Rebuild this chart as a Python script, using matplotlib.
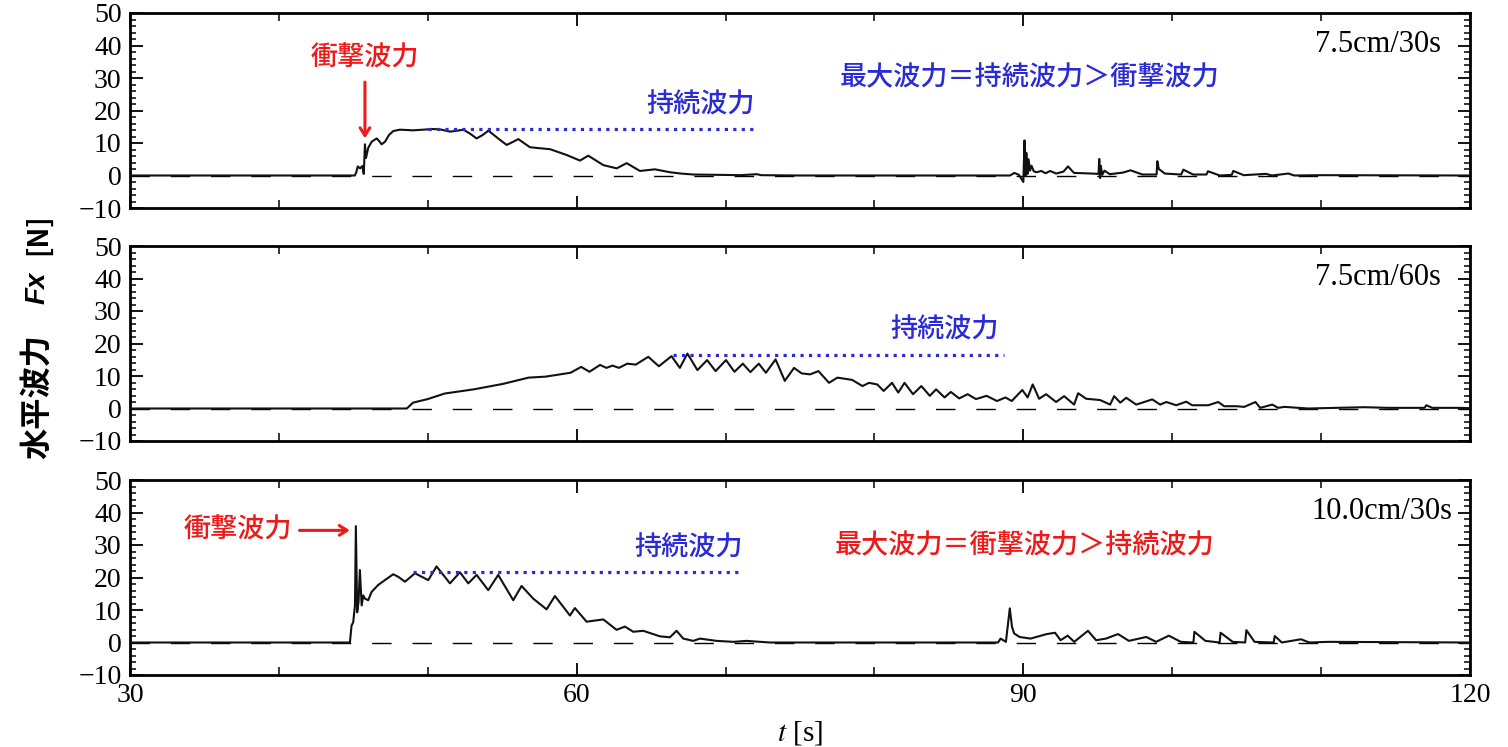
import matplotlib
matplotlib.use('Agg')
import matplotlib.pyplot as plt
from matplotlib.ticker import MultipleLocator

# ---------------- data ----------------
t1 = [30.0, 45.1, 45.2, 45.3, 45.45, 45.6, 45.7, 45.78, 45.85, 46.0, 46.23, 46.57, 46.75,
      46.9, 47.13, 47.4, 47.69, 48.13, 49.0, 49.7, 50.3, 50.82, 51.49, 52.0, 52.39, 52.8,
      53.28, 53.7, 54.07, 54.7, 55.3, 55.7, 56.08, 56.86, 57.5, 58.21, 59.33, 60.22, 60.78,
      61.79, 62.69, 63.36, 64.25, 65.26, 66.27, 67.0, 67.83, 69.5, 71.0, 72.1, 72.4, 75.0,
      89.1, 89.4, 89.7, 90.0, 90.08, 90.15, 90.2, 90.28, 90.35, 90.45, 90.55, 90.7, 90.9,
      91.2, 91.5, 91.8, 92.2, 92.7, 93.0, 93.4, 94.6, 95.05, 95.1, 95.15, 95.2, 95.3, 95.45,
      95.8, 96.7, 97.2, 98.0, 98.95, 99.0, 99.1, 99.5, 100.6, 100.75, 101.4, 102.3, 102.4,
      103.2, 104.0, 104.1, 104.8, 106.3, 106.7, 107.8, 108.2, 110.0, 120.0]
f1 = [0.0, 0.0, 1.0, 2.8, 2.2, 2.9, 0.5, 9.6, 5.4, 8.5, 10.4, 11.4, 10.5,
      9.6, 10.4, 12.5, 13.7, 14.1, 13.9, 14.1, 14.3, 14.2, 13.5, 13.8, 14.1, 13.0,
      11.4, 12.5, 13.8, 11.5, 9.4, 10.3, 11.2, 8.7, 8.4, 8.1, 6.3, 4.6, 6.1,
      3.2, 2.2, 3.8, 1.4, 1.9, 1.0, 0.6, 0.3, 0.2, 0.1, 0.4, 0.1, 0.0,
      0.0, 0.8, 0.2, -2.0, 10.8, 0.0, 7.0, 0.5, 5.0, 1.5, 3.0, 1.3, 1.0,
      1.4, 0.7, 1.4, 0.6, 1.2, 2.8, 0.8, 0.6, 0.5, 5.1, -0.8, 3.0, 0.2, 1.5,
      0.4, 0.9, 1.6, 0.3, 0.3, 4.4, 2.0, 0.6, 0.3, 1.8, 0.3, 0.3, 1.3,
      0.0, 0.2, 1.4, 0.1, 0.5, 0.0, 0.6, 0.0, 0.1, 0.0]

t2 = [30.0, 48.59, 49.01, 50.0, 51.13, 53.1, 55.08, 56.77, 57.9, 59.59, 60.3, 60.86, 61.57,
      62.0, 62.41, 62.84, 63.4, 63.97, 64.81, 65.52, 66.37, 66.93, 67.44, 68.11, 68.76,
      69.33, 70.03, 70.6, 71.16, 71.67, 72.23, 72.71, 73.36, 73.98, 74.6, 75.11, 75.68,
      76.24, 76.95, 77.51, 78.5, 79.2, 79.63, 80.19, 80.62, 81.18, 81.6, 82.02, 82.59,
      83.15, 83.72, 84.14, 84.71, 85.13, 85.69, 86.26, 86.82, 87.53, 88.23, 88.8, 89.22,
      89.93, 90.29, 90.63, 91.06, 91.53, 92.2, 92.74, 93.41, 93.68, 94.22, 95.16, 95.83,
      96.1, 96.51, 96.91, 97.58, 98.66, 99.19, 99.6, 100.27, 100.94, 101.34, 102.42,
      103.09, 103.49, 104.3, 104.84, 105.59, 105.91, 106.72, 107.12, 107.53, 109.14,
      112.9, 114.52, 116.94, 117.07, 117.47, 119.35, 120.0]
f2 = [0.0, 0.0, 1.8, 2.9, 4.6, 5.9, 7.6, 9.5, 9.8, 11.0, 12.8, 11.3, 13.4,
      12.5, 13.2, 12.5, 13.8, 13.5, 15.9, 13.0, 16.1, 12.5, 16.9, 11.8, 14.9,
      11.5, 14.9, 11.3, 13.8, 11.2, 13.8, 11.0, 15.1, 8.5, 12.5, 10.8, 10.5,
      11.5, 7.9, 9.5, 8.8, 6.9, 7.9, 7.4, 5.4, 7.9, 4.9, 7.9, 4.4,
      6.9, 3.9, 5.9, 3.4, 5.1, 3.1, 4.4, 2.9, 3.9, 2.3, 3.4, 2.3,
      5.7, 3.4, 7.4, 3.0, 4.4, 2.0, 3.8, 1.2, 4.7, 3.0, 2.6, 1.2,
      3.8, 1.8, 3.3, 1.2, 2.8, 1.2, 2.0, 1.0, 2.1, 1.0, 1.0,
      2.0, 0.7, 0.7, 0.5, 2.0, 0.2, 1.2, 0.2, 0.5, 0.0,
      0.4, 0.2, 0.2, 1.0, 0.2, 0.2, 0.1]

t3 = [30.0, 44.77, 44.88, 44.99, 45.11, 45.17, 45.26, 45.35, 45.44, 45.56, 45.67, 45.78,
      46.0, 46.23, 46.67, 47.12, 47.68, 48.02, 48.47, 49.14, 50.03, 50.59, 51.49, 52.16,
      52.72, 53.28, 54.06, 54.73, 55.74, 56.3, 57.08, 57.98, 58.54, 59.55, 59.88, 60.67,
      61.79, 62.68, 63.24, 63.8, 64.47, 65.59, 66.26, 66.71, 67.16, 67.83, 68.28, 69.4,
      70.52, 71.41, 72.98, 88.3, 88.47, 88.83, 89.09, 89.24, 89.38, 89.75, 90.48, 91.58,
      92.13, 92.5, 92.98, 93.42, 94.34, 94.89, 95.55, 96.36, 97.09, 98.26, 98.92, 99.77,
      100.58, 101.42, 101.49, 102.23, 103.18, 103.25, 104.06, 104.9, 104.98, 105.53,
      106.81, 106.89, 107.36, 108.65, 109.2, 110.48, 120.0]
f3 = [0.0, 0.0, 5.2, 6.2, 11.4, 35.8, 9.3, 12.5, 22.3, 11.4, 14.5, 13.5,
      13.0, 15.6, 17.7, 19.2, 21.0, 20.2, 18.7, 21.3, 19.2, 23.4, 18.2, 21.6,
      18.2, 20.8, 16.1, 20.8, 13.0, 17.4, 13.5, 10.2, 14.3, 8.3, 10.6, 6.4,
      7.1, 3.9, 4.9, 3.3, 3.6, 1.9, 1.6, 3.6, 1.2, 0.5, 1.2, 0.5,
      0.2, 0.5, 0.0, 0.0, 1.2, 0.2, 10.5, 4.8, 2.8, 1.7, 1.2, 2.6,
      3.0, 0.7, 2.1, 0.2, 3.6, 0.7, 1.2, 2.6, 0.5, 1.7, 0.2, 2.1,
      0.2, 0.0, 3.3, 0.5, 0.0, 3.0, 0.2, 0.0, 3.8, 0.2,
      0.0, 2.0, 0.0, 1.0, 0.0, 0.2, 0.0]

case_labels = ['7.5cm/30s', '7.5cm/60s', '10.0cm/30s']
sustained_levels = [14.2, 16.6, 21.8]
sustained_spans = [(50.0, 72.1), (66.5, 88.7), (49.0, 71.2)]

# ---------------- style ----------------
plt.rcParams['font.family'] = ['Liberation Serif', 'DejaVu Serif']
plt.rcParams['mathtext.fontset'] = 'stix'
JP = ['Noto Sans CJK JP', 'DejaVu Sans']
RED = '#ee1a1a'
BLUE = '#2b2bd6'
TICKFS = 20
JPFS = 19.5

fig = plt.figure(figsize=(15.08, 7.47), dpi=100)
W, H = 1508.0, 747.0


def rect(top, bottom):
    return [130 / W, 1 - bottom / H, 1340 / W, (bottom - top) / H]


axes = [fig.add_axes(rect(13, 208)), fig.add_axes(rect(246, 441)), fig.add_axes(rect(480, 675))]
series = [(t1, f1), (t2, f2), (t3, f3)]

for i, ax in enumerate(axes):
    t, f = series[i]
    ax.axhline(0, color='black', lw=1.0, dashes=(14, 15), zorder=1)
    ax.plot(t, f, color='#111111', lw=1.5, zorder=3, solid_joinstyle='round')
    s0, s1 = sustained_spans[i]
    ax.plot([s0, s1], [sustained_levels[i], sustained_levels[i]], color=BLUE, lw=2.3,
            linestyle=':', zorder=4)
    ax.set_xlim(30, 120)
    ax.set_ylim(-10, 50)
    ax.xaxis.set_major_locator(MultipleLocator(30))
    ax.xaxis.set_minor_locator(MultipleLocator(10))
    ax.yaxis.set_major_locator(MultipleLocator(10))
    ax.yaxis.set_minor_locator(MultipleLocator(2))
    ax.tick_params(which='both', direction='in', top=True, right=True, labelsize=TICKFS)
    ax.tick_params(which='major', length=9, width=1.3)
    ax.tick_params(which='minor', length=4.5, width=1.1)
    ax.tick_params(axis='x', which='minor', length=6)
    ax.tick_params(axis='y', pad=6)
    for sp in ax.spines.values():
        sp.set_linewidth(2.0)
    if i < 2:
        ax.tick_params(axis='x', labelbottom=False)
    else:
        ax.tick_params(axis='x', pad=6)
    ax.text(0.978 if i < 2 else 0.987, 0.84, case_labels[i], transform=ax.transAxes,
            ha='right', va='center', fontsize=22)

# panel 1 annotations
a = axes[0]
a.text(45.78, 36.2, '衝撃波力', color=RED, ha='center', va='center', fontsize=JPFS,
       family=JP, fontweight='medium')
a.annotate('', xy=(45.78, 10.6), xytext=(45.78, 29.6),
           arrowprops=dict(arrowstyle='->,head_length=0.55,head_width=0.35', color=RED, lw=2.2))
a.text(68.3, 21.7, '持続波力', color=BLUE, ha='center', va='center', fontsize=JPFS,
       family=JP, fontweight='medium')
a.text(90.4, 30.0, '最大波力＝持続波力＞衝撃波力', color=BLUE, ha='center', va='center',
       fontsize=JPFS, family=JP, fontweight='medium')

# panel 2
a = axes[1]
a.text(84.7, 24.2, '持続波力', color=BLUE, ha='center', va='center', fontsize=JPFS,
       family=JP, fontweight='medium')

# panel 3
a = axes[2]
a.text(37.25, 34.5, '衝撃波力', color=RED, ha='center', va='center', fontsize=JPFS,
       family=JP, fontweight='medium')
a.annotate('', xy=(44.95, 34.5), xytext=(41.2, 34.5),
           arrowprops=dict(arrowstyle='->,head_length=0.55,head_width=0.35', color=RED, lw=2.2))
a.text(67.5, 28.9, '持続波力', color=BLUE, ha='center', va='center', fontsize=JPFS,
       family=JP, fontweight='medium')
a.text(90.1, 29.8, '最大波力＝衝撃波力＞持続波力', color=RED, ha='center', va='center',
       fontsize=JPFS, family=JP, fontweight='medium')

# axis labels
fig.text(800 / W, 1 - 733 / H, r'$t$ [s]', ha='center', va='center', fontsize=21)
fig.text(38 / W, 1 - 396 / H, '水平波力', rotation=90, ha='center', va='center',
         fontsize=22.5, fontweight='bold', family=JP)
fig.text(38 / W, 1 - 288 / H, 'Fx', rotation=90, ha='center', va='center',
         fontsize=20, fontweight='bold', fontstyle='italic', family=['Liberation Sans', 'DejaVu Sans'])
fig.text(38 / W, 1 - 234 / H, '[N]', rotation=90, ha='center', va='center',
         fontsize=20, fontweight='bold', family=JP)

fig.savefig('out.png', dpi=100)
